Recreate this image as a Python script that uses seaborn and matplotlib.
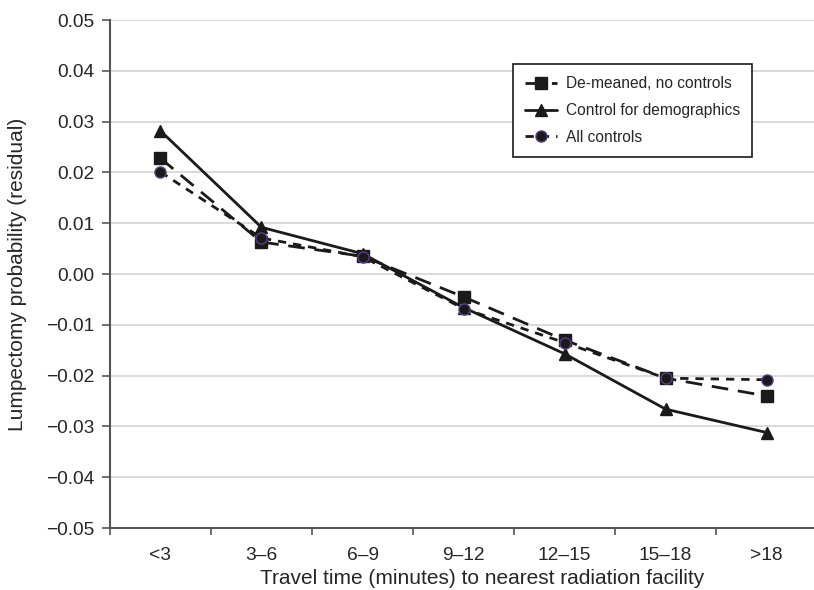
import numpy as np
import pandas as pd
import matplotlib
matplotlib.use("Agg")
import matplotlib.pyplot as plt
from matplotlib import font_manager
import seaborn as sns

categories = ["<3", "3–6", "6–9", "9–12", "12–15", "15–18", ">18"]
demeaned = [0.0228, 0.0063, 0.0035, -0.0045, -0.0130, -0.0205, -0.0240]
demographics = [0.0282, 0.0092, 0.0040, -0.0066, -0.0157, -0.0266, -0.0312]
all_controls = [0.0201, 0.0071, 0.0034, -0.0068, -0.0135, -0.0205, -0.0208]
yticks = [0.05, 0.04, 0.03, 0.02, 0.01, 0.00, -0.01, -0.02, -0.03, -0.04, -0.05]

sns.set_style("white")
plt.rcParams["font.family"] = ["Liberation Sans", "DejaVu Sans"]

# condensed face for the axis text, if it is there
installed = {f.name for f in font_manager.fontManager.ttflist}
if "Liberation Sans Narrow" in installed:
    narrow = ["Liberation Sans Narrow", "DejaVu Sans"]
    tick_fs, label_fs = 16.5, 18
else:
    narrow = ["Liberation Sans", "DejaVu Sans"]
    tick_fs, label_fs = 13.8, 15

fig = plt.figure(figsize=(8.14, 5.9), dpi=100)
ax = fig.add_axes([0.135, 0.105, 0.869, 0.861])

pos = np.arange(len(categories))
series = [
    ("De-meaned, no controls", demeaned, "s", (0, (6, 3.5)), "#1a1a1a"),
    ("Control for demographics", demographics, "^", "-", "#1a1a1a"),
    ("All controls", all_controls, "o", (0, (3, 2.5)), "#5a3d8a"),
]
for name, vals, mk, ls, edge in series:
    df = pd.DataFrame({"x": pos, "y": vals})
    sns.lineplot(data=df, x="x", y="y", ax=ax, color="#1a1a1a", linewidth=2.0,
                 linestyle=ls, marker=mk, markersize=8, markerfacecolor="#1a1a1a",
                 markeredgecolor=edge, markeredgewidth=1.0, label=name)

ax.set_xlim(-0.5, len(categories) - 0.5)
ax.set_ylim(-0.05, 0.05)
ax.set_xticks(pos)
ax.set_xticklabels(categories, fontsize=tick_fs, family=narrow)
ax.set_xticks(np.arange(-0.5, len(categories), 1), minor=True)
ax.tick_params(axis="x", which="major", bottom=False, pad=10)
ax.tick_params(axis="x", which="minor", bottom=True, length=5, width=1.2,
               color="#555555", direction="out")
ax.set_yticks(yticks)
ax.set_yticklabels([f"{v:.2f}".replace("-", "\u2212") for v in yticks],
                   fontsize=tick_fs, family=narrow)
ax.tick_params(axis="y", left=True, length=6, width=1.2, color="#555555",
               direction="out", pad=5)
ax.yaxis.grid(True, color="#d4d4d4", linewidth=1.2)
ax.set_axisbelow(True)
for s in ["top", "right"]:
    ax.spines[s].set_visible(False)
for s in ["left", "bottom"]:
    ax.spines[s].set_color("#555555")
    ax.spines[s].set_linewidth(1.5)

ax.set_xlabel("Travel time (minutes) to nearest radiation facility",
              fontsize=label_fs, family=narrow, va="center")
ax.xaxis.set_label_coords(0.526, -0.1)
ax.set_ylabel("Lumpectomy probability (residual)", fontsize=label_fs,
              family=narrow, va="center")
ax.yaxis.set_label_coords(-0.13, 0.5)

leg = ax.legend(loc="upper left", bbox_to_anchor=(513 / 814, 1 - 64 / 590),
                bbox_transform=fig.transFigure, borderaxespad=0, fancybox=False,
                framealpha=1, edgecolor="#1a1a1a", fontsize=11.2, handlelength=2.0,
                labelspacing=0.75, borderpad=0.8, handletextpad=0.6)
leg.get_frame().set_linewidth(1.2)

fig.savefig("out.png", dpi=100)
